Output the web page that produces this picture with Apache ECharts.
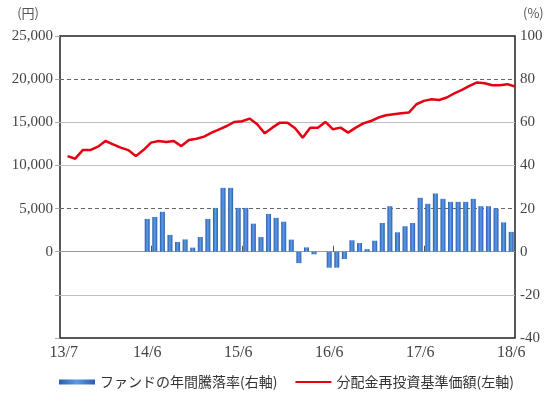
<!DOCTYPE html>
<html>
<head>
<meta charset="utf-8">
<script src="https://cdn.jsdelivr.net/npm/echarts@6/dist/echarts.min.js"></script>
<style>
html,body{margin:0;padding:0;background:#fff;}
#chart{width:550px;height:406px;}
</style>
</head>
<body>
<div id="chart"></div>
<script>
// Categories (year/month)
var months = [
 '13/7','13/8','13/9','13/10','13/11','13/12',
 '14/1','14/2','14/3','14/4','14/5','14/6','14/7','14/8','14/9','14/10','14/11','14/12',
 '15/1','15/2','15/3','15/4','15/5','15/6','15/7','15/8','15/9','15/10','15/11','15/12',
 '16/1','16/2','16/3','16/4','16/5','16/6','16/7','16/8','16/9','16/10','16/11','16/12',
 '17/1','17/2','17/3','17/4','17/5','17/6','17/7','17/8','17/9','17/10','17/11','17/12',
 '18/1','18/2','18/3','18/4','18/5','18/6'
];
var labelMonths = ['13/7','14/6','15/6','16/6','17/6','18/6'];
var tickMonths = ['14/7','15/7','16/7','17/7'];

// ファンドの年間騰落率 (%), right axis
var annualReturn = [
 null,null,null,null,null,null,null,null,null,null,null,
 15.2,16.1,18.5,7.8,4.5,5.7,1.9,6.8,15.2,20.3,29.6,29.6,20.3,20.3,13.0,6.8,17.5,15.7,13.9,5.6,
 -5.3,2.0,-1.2,0,-7.4,-7.4,-3.4,5.3,4.0,1.2,5.1,13.3,21.1,9.0,11.8,13.3,
 25.0,22.2,27.0,24.5,23.1,23.1,23.1,24.5,21.1,21.1,20.0,13.6,9.2
];

// 分配金再投資基準価額 (円), left axis, month-end values
var navReinvested = [
 11080,10780,11780,11780,12170,12830,12440,12060,11780,11080,
 11780,12640,12830,12710,12830,12240,12940,13100,13340,13800,
 14190,14570,15040,15120,15430,14770,13720,14380,14960,14960,
 14300,13220,14380,14380,15040,14190,14380,13800,14380,14880,
 15150,15550,15810,15930,16050,16130,17090,17480,17670,17590,
 17870,18340,18760,19220,19620,19530,19300,19300,19420,19150
];

var barName = 'ファンドの年間騰落率(右軸)';
var lineName = '分配金再投資基準価額(左軸)';

var numFont = "'Liberation Serif', 'Times New Roman', serif";
var cjkFont = "'Noto Sans CJK JP', sans-serif";

var chart = echarts.init(document.getElementById('chart'));
chart.setOption({
  animation: false,
  backgroundColor: '#fff',
  grid: {left: 60, right: 35, top: 36, bottom: 68, show: true,
         borderColor: '#222', borderWidth: 1.5, backgroundColor: 'transparent'},
  legend: {
    bottom: 12, left: 54, itemWidth: 36, itemHeight: 5, itemGap: 18,
    textStyle: {fontFamily: cjkFont, fontSize: 14, color: '#333'},
    data: [{name: barName, icon: 'rect'},
           {name: lineName, icon: 'path://M0,0H36V2H0Z'}]
  },
  xAxis: [{
    type: 'category', data: months, boundaryGap: true,
    axisLine: {show: false},
    axisTick: {show: true, inside: true, length: 6,
      lineStyle: {color: '#555', width: 1},
      interval: function (i, v) { return tickMonths.indexOf(v) >= 0; }},
    axisLabel: {margin: 7, fontFamily: numFont, fontSize: 16, color: '#444',
      interval: function (i, v) { return labelMonths.indexOf(v) >= 0; }},
    splitLine: {show: false}
  }, {
    type: 'value', min: 0, max: months.length, show: false, position: 'top'
  }],
  yAxis: [{
    type: 'value', min: -10000, max: 25000, interval: 5000, position: 'left',
    name: '(円)', nameLocation: 'end', nameGap: 16,
    nameTextStyle: {fontFamily: cjkFont, fontSize: 13, color: '#555', align: 'right', padding: [0, 21, 0, 0]},
    axisLine: {show: false},
    axisTick: {show: true, length: 5, lineStyle: {color: '#aaa'}},
    axisLabel: {margin: 7, fontFamily: numFont, fontSize: 15, color: '#444',
      formatter: function (v) { return v < 0 ? '' : v.toLocaleString('en-US'); }},
    splitLine: {show: true, lineStyle: {width: 1, type: 'solid',
      color: ['transparent', '#bdbdbd', '#9a9a9a', 'transparent', '#c4c4c4', '#bdbdbd', 'transparent', 'transparent']}}
  }, {
    type: 'value', min: -40, max: 100, interval: 20, position: 'right',
    name: '(%)', nameLocation: 'end', nameGap: 16,
    nameTextStyle: {fontFamily: cjkFont, fontSize: 13, color: '#555', align: 'left', padding: [0, 0, 0, 8]},
    axisLine: {show: false},
    axisTick: {show: false},
    axisLabel: {margin: 5, fontFamily: numFont, fontSize: 15, color: '#444'},
    splitLine: {show: true, lineStyle: {width: 0.9, type: [4, 3],
      color: ['transparent', 'transparent', 'transparent', '#555', 'transparent', 'transparent', '#555', 'transparent']}}
  }],
  series: [{
    name: barName, type: 'bar', xAxisIndex: 0, yAxisIndex: 1,
    data: annualReturn, barWidth: 5,
    itemStyle: {color: new echarts.graphic.LinearGradient(0, 0, 1, 0, [
      {offset: 0, color: '#2a5cae'}, {offset: 0.5, color: '#5c9ce6'}, {offset: 1, color: '#2a5cae'}])}
  }, {
    name: lineName, type: 'line', xAxisIndex: 1, yAxisIndex: 0,
    data: navReinvested.map(function (v, i) { return [i + 1, v]; }),
    symbol: 'none', smooth: false, z: 5,
    lineStyle: {color: '#e60012', width: 2.5},
    itemStyle: {color: '#e60012'}
  }]
});
</script>
</body>
</html>
